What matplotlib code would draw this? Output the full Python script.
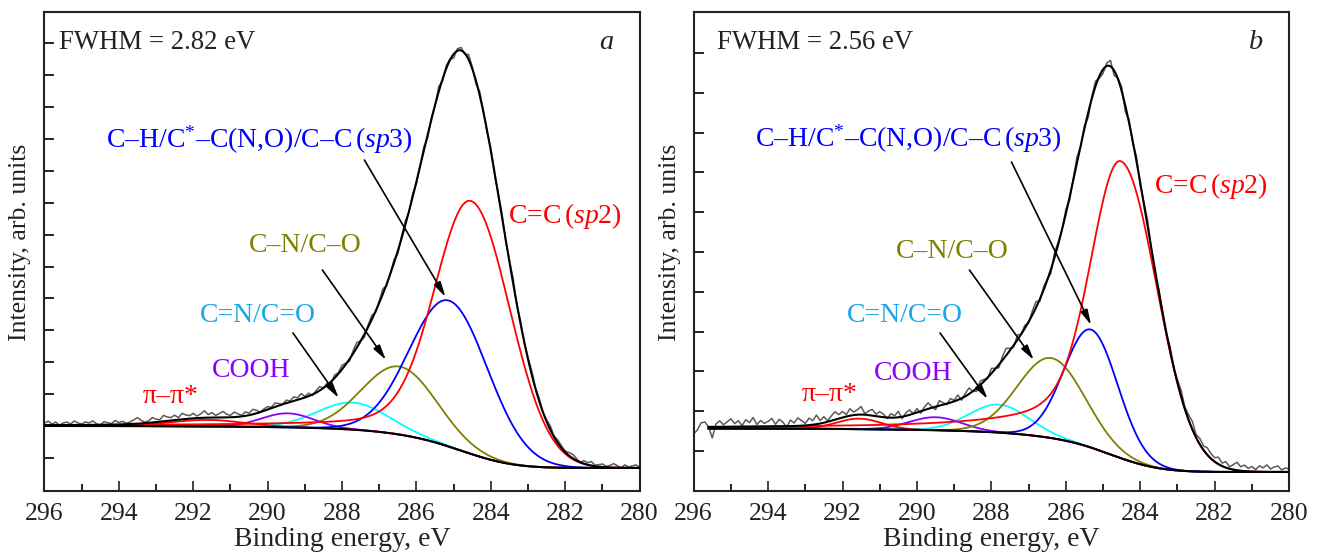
import numpy as np
import matplotlib
matplotlib.use("Agg")
import matplotlib.pyplot as plt
from matplotlib.ticker import MultipleLocator

plt.rcParams['font.family'] = ['Liberation Serif', 'DejaVu Serif']
plt.rcParams['mathtext.fontset'] = 'custom'
plt.rcParams['mathtext.rm'] = 'Liberation Serif'
plt.rcParams['mathtext.it'] = 'Liberation Serif:italic'
plt.rcParams['mathtext.bf'] = 'Liberation Serif:bold'

# ---------------- data ----------------
fwhm_text = ["FWHM = 2.82 eV", "FWHM = 2.56 eV"]
panel_letters = ["a", "b"]
comp_labels = [r"C=C$\,$(" + r"$\mathit{sp}$" + "2)",
               r"C–H/C$^{*}$–C(N,O)/C–C$\,$(" + r"$\mathit{sp}$" + "3)",
               "C–N/C–O", "C=N/C=O", "COOH", "π–π*"]
comp_colors = ["#ff0000", "#0000ff", "#808000", "#00ffff", "#8b00ff", "#ff0000"]
label_colors = ["#ff0000", "#0000ff", "#808000", "#1ca6e6", "#8b00ff", "#ff0000"]

# peak parameters: C=C(sp2), C-H/..., C-N/C-O, C=N/C=O, COOH, pi-pi*
centers_a = [284.53, 285.12, 286.46, 287.71, 289.46, 291.60]
heights_a = [253.0, 146.0, 68.0, 27.0, 14.0, 6.5]
sigmas_a = [1.05, 1.05, 1.00, 0.95, 0.70, 1.00]
sp2_sigma_high_a = 0.95
sp2_eta_a = 0.20
sp2_lor_a = 1.5
step_a = 42.0
fit_start_a = 296.0

centers_b = [284.52, 285.32, 286.39, 287.80, 289.50, 291.55]
heights_b = [297.0, 118.0, 80.0, 28.0, 13.0, 10.5]
sigmas_b = [0.97, 0.72, 0.90, 0.80, 0.70, 0.60]
sp2_sigma_high_b = 0.76
sp2_eta_b = 0.30
sp2_lor_b = 1.5
step_b = 43.5
fit_start_b = 295.6

# measured minus fit (0.1 eV steps, 296 -> 280 eV)
resid_a = [
    2, 4, 1, 3, 0, 2, 3, 1, 4, 2,
    1, 3, 2, 4, 1, 0, 3, 2, 1, 4,
    2, 3, 1, 2, 4, 6, 3, 1, 2, 5,
    3, 2, 6, 4, 3, 5, 2, 6, 4, 3,
    5, 2, 4, 7, 3, 5, 2, 4, 6, 3,
    2, 5, 3, 1, 4, 2, 5, 3, 0, 2,
    3, 1, 4, 2, 0, 3, 1, 4, 2, 5,
    1, 3, -1, 2, 4, 0, 2, -2, 3, 1,
    4, 1, -2, 3, 5, 0, -3, 2, 4, -1,
    2, 5, -2, 1, 3, -3, 2, 4, -1, 3,
    -2, 1, 4, -3, 2, 0, 5, -2, 3, 1,
    -4, 2, 3, -1, 5, 2, -3, 4, 1, -2,
    3, -3, 1, 4, -2, 2, 5, -1, 3, 0,
    2, 4, 1, 3, 0, 2, 4, 1, 3, 2,
    1, 3, 4, 2, 0, 3, 2, 4, 1, 2,
    3, 1, 2, 4, 2, 0, 3, 1, 2, 3,
    1]
resid_b = [
    -7, -3, 4, 5, 0, -11, 3, 6, 2, 5,
    8, 3, 6, 1, 7, 4, 9, 2, 6, 3,
    5, 8, 2, 7, 4, -1, 6, 3, 8, 5,
    2, 7, 4, 9, 3, 6, 1, 5, 8, 4,
    6, 2, 7, 3, 5, 8, 1, 4, 6, 2,
    5, 3, -1, 4, 2, 6, -2, 3, 5, 0,
    4, -2, 3, 6, 1, -3, 5, 2, -1, 4,
    1, 5, -2, 3, 6, 0, -3, 4, 2, -1,
    5, 1, -3, 4, 7, 2, -2, 5, 0, 3,
    -1, 4, 6, -2, 3, 1, -4, 5, 2, 0,
    4, -3, 2, 6, -1, 3, -5, 2, 5, -2,
    -4, 3, 6, -5, 1, 4, -6, 3, -2, 5,
    -3, 2, 6, -1, -4, 3, 1, -2, 4, 0,
    3, 6, 2, 5, 8, 3, 6, 4, 7, 5,
    4, 7, 3, 6, 2, 5, 8, 4, 6, 3,
    5, 2, 6, 4, 7, 3, 5, 6, 2, 4,
    3]

x_ticks = [296, 294, 292, 290, 288, 286, 284, 282, 280]

# ---------------- layout (positions of annotations) ----------------
layout = [
    dict(ylim=(-23, 455.5), ytick0=10, ytick_step=31.9, fwhm_xy=(295.6, 425), letter_xy=(280.7, 425),
         lab=[(283.55, 252, 'left'), (290.22, 328, 'center'), (289.0, 222, 'center'),
              (290.27, 152, 'center'), (290.45, 97, 'center'), (292.6, 71, 'center')],
         arrows=[None, ((287.4, 308), (285.22, 171)), ((288.53, 198), (286.82, 108)),
                 ((289.32, 135), (288.09, 70)), None, None]),
    dict(ylim=(-19, 459.5), ytick0=21, ytick_step=39.8, fwhm_xy=(295.36, 429), letter_xy=(280.7, 429),
         lab=[(283.64, 286, 'left'), (290.24, 333, 'center'), (289.05, 220, 'center'),
              (290.33, 156, 'center'), (290.11, 98, 'center'), (292.34, 77, 'center')],
         arrows=[None, ((287.46, 310), (285.32, 147)), ((288.59, 202), (286.86, 112)),
                 ((289.38, 139), (288.1, 73)), None, None]),
]

FS_TICK = 18.5
FS_LAB = 20
FS_AX = 20
FS_NOTE = 19.3


def gauss(d, s):
    return np.exp(-d ** 2 / (2 * s ** 2))


def components(E, centers, heights, sigmas, s_high, eta, wl):
    comps = []
    for k, (c, h, s) in enumerate(zip(centers, heights, sigmas)):
        d = E - c
        if k == 0:
            high = (1 - eta) * gauss(d, s_high) + eta * wl ** 2 / (wl ** 2 + d ** 2)
            y = h * np.where(d > 0, high, gauss(d, s))
        else:
            y = h * gauss(d, s)
        comps.append(y)
    return comps


E = np.linspace(280.0, 296.0, 801)          # ascending fine grid
idx_data = np.arange(0, 801, 5)[::-1]        # 0.1 eV steps, 296 -> 280

panels = [
    (centers_a, heights_a, sigmas_a, sp2_sigma_high_a, sp2_eta_a, sp2_lor_a, step_a, fit_start_a, resid_a),
    (centers_b, heights_b, sigmas_b, sp2_sigma_high_b, sp2_eta_b, sp2_lor_b, step_b, fit_start_b, resid_b),
]

fig = plt.figure(figsize=(13.2, 5.58), dpi=100)
axes_rects = [[0.0337, 0.1201, 0.4509, 0.8575], [0.5255, 0.1201, 0.4511, 0.8575]]

for p, (cen, hei, sig, sh, eta, wl, step, fstart, resid) in enumerate(panels):
    ax = fig.add_axes(axes_rects[p])
    L = layout[p]
    comps = components(E, cen, hei, sig, sh, eta, wl)
    total = np.sum(comps, axis=0)
    cum = np.concatenate([[0], np.cumsum(0.5 * (total[1:] + total[:-1]) * np.diff(E))])
    bg = step * cum / cum[-1]
    env = bg + total

    # measured spectrum
    Ed = E[idx_data]
    meas = env[idx_data] + np.array(resid, dtype=float)
    ax.plot(Ed, meas, color='#5a5a5a', lw=1.1, zorder=2)

    m = E <= fstart + 1e-9
    order = [3, 4, 5, 2, 1, 0]
    for k in order:
        ax.plot(E[m], bg[m] + comps[k][m], color=comp_colors[k], lw=1.3, zorder=3)
    ax.plot(E[m], bg[m], color='black', lw=1.5, zorder=4)
    ax.plot(E[m], env[m], color='black', lw=1.5, zorder=4)

    # labels
    for k in range(6):
        x, y, ha = L['lab'][k]
        ax.text(x, y, comp_labels[k], color=label_colors[k], fontsize=FS_LAB, ha=ha, va='center', zorder=6)
        if L['arrows'][k] is not None:
            (x0, y0), (x1, y1) = L['arrows'][k]
            ax.annotate('', xy=(x1, y1), xytext=(x0, y0),
                        arrowprops=dict(arrowstyle='-|>,head_length=0.9,head_width=0.22',
                                        lw=1.2, color='black', shrinkA=0, shrinkB=0),
                        zorder=6)
    ax.text(*L['fwhm_xy'], fwhm_text[p], fontsize=FS_NOTE, ha='left', va='center', color='#222222')
    ax.text(*L['letter_xy'], panel_letters[p], fontsize=FS_NOTE + 1, ha='right', va='center',
            style='italic', color='#222222')

    ax.set_xlim(296, 280)
    ax.set_ylim(*L['ylim'])
    ax.set_xticks(x_ticks)
    ax.set_xticklabels([str(t) for t in x_ticks])
    ax.xaxis.set_minor_locator(MultipleLocator(1))
    yt = np.arange(L['ytick0'], L['ylim'][1] - 5, L['ytick_step'])
    ax.set_yticks(yt)
    ax.set_yticklabels([])
    ax.tick_params(axis='x', which='major', direction='in', length=7, width=1.2,
                   labelsize=FS_TICK, pad=9, colors='#222222')
    ax.tick_params(axis='x', which='minor', direction='in', length=5, width=1.2)
    ax.tick_params(axis='y', which='both', direction='in', length=7, width=1.2, left=True, right=False)
    for s in ax.spines.values():
        s.set_linewidth(1.5)
        s.set_color('#222222')
    ax.set_xlabel("Binding energy, eV", fontsize=FS_AX, color='#222222')
    ax.xaxis.set_label_coords(0.5, -0.076)
    ax.xaxis.label.set_va('top')
    ax.set_ylabel("Intensity, arb. units", fontsize=FS_TICK, color='#222222')
    ax.yaxis.set_label_coords(-0.022, 0.519)

fig.savefig("out.png", dpi=100)
